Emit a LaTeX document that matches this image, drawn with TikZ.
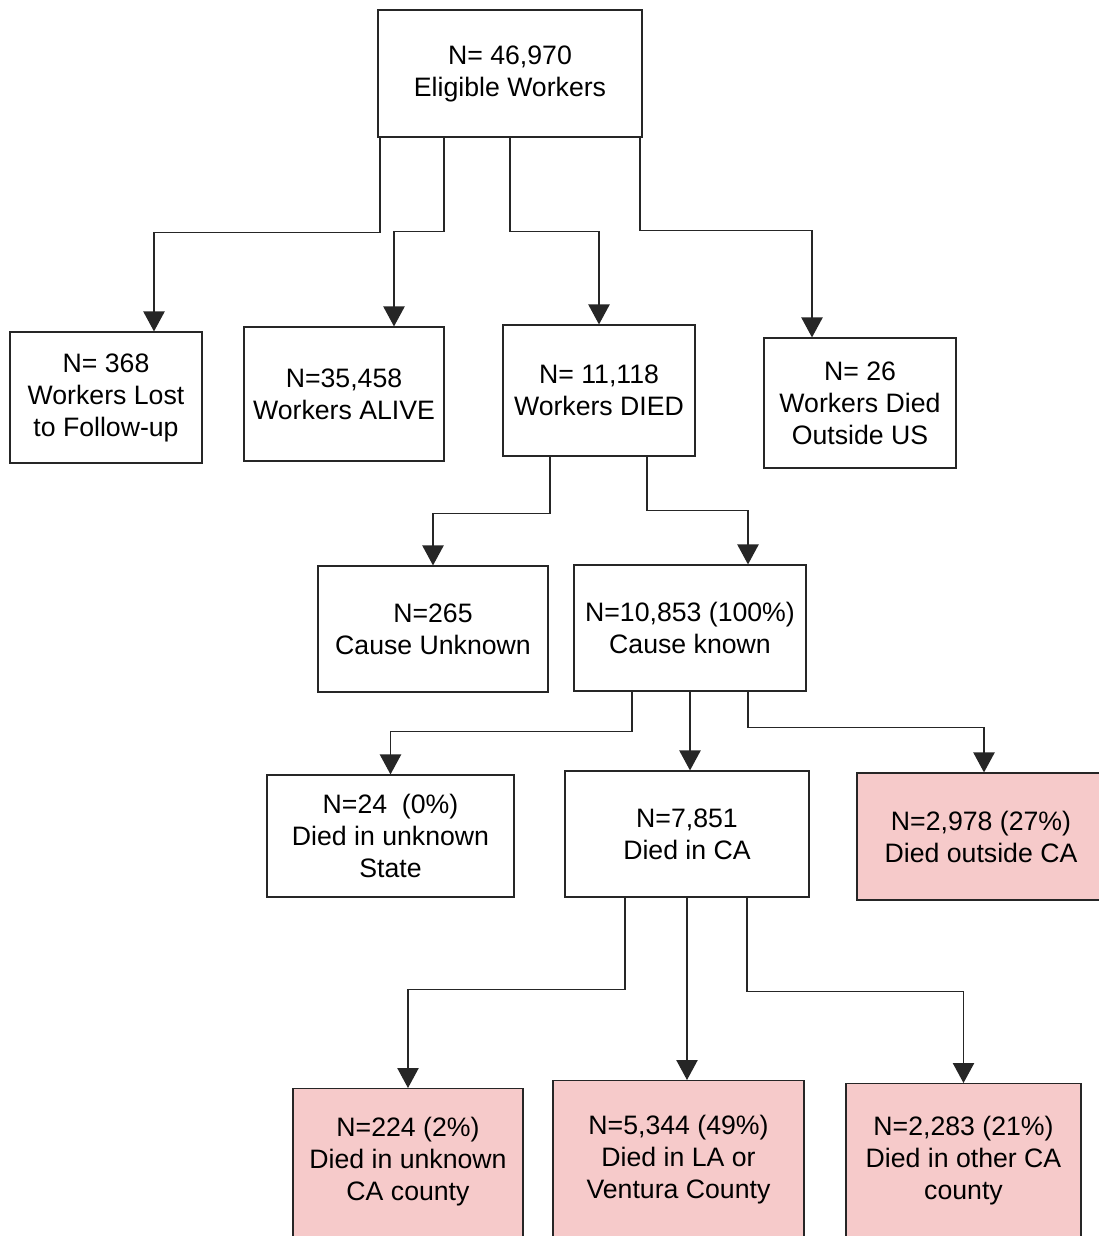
\documentclass[tikz,border=0pt]{standalone}
\usepackage{fontspec}
\setmainfont{Liberation Sans}
\usetikzlibrary{arrows.meta,calc}
\definecolor{pinkfill}{HTML}{F6CACA}
\begin{document}
\begin{tikzpicture}[x=0.75pt,y=-0.75pt,
  box/.style={draw=black!85,line width=0.9pt,fill=white,align=center,inner sep=0pt,
    font=\fontsize{20}{24}\selectfont},
  pinkbox/.style={box,fill=pinkfill},
  txt/.style={align=center,inner sep=0pt,font=\fontsize{20}{24}\selectfont},
  arr/.style={line width=0.9pt,draw=black!85,-{Triangle[length=15pt,width=16pt]}}]
\useasboundingbox (0,0) rectangle (1099,1236);
\clip (0,0) rectangle (1099,1236);
\fill[white] (0,0) rectangle (1099,1236);
% row 1
\node[box,minimum width=198pt,minimum height=95.25pt] (top) at (510,73.5) {N= 46,970\\Eligible Workers};
% row 2
\node[box,minimum width=144pt,minimum height=98.25pt] (lost) at (106,397.5) {N= 368\\Workers Lost\\to Follow-up};
\node[box,minimum width=150pt,minimum height=100.5pt] (alive) at (344,394) {N=35,458\\Workers ALIVE};
\node[box,minimum width=144pt,minimum height=98.25pt] (died) at (599,390.5) {N= 11,118\\Workers DIED};
\node[box,minimum width=144pt,minimum height=97.5pt] (outus) at (860,403) {N= 26\\Workers Died\\Outside US};
% row 3
\node[box,minimum width=172.5pt,minimum height=94.5pt] (cunk) at (433,629) {N=265\\Cause Unknown};
\node[box,minimum width=174pt,minimum height=94.5pt] (cknown) at (690,628) {N=10,853 (100\%)\\Cause known};
% row 4
\node[box,minimum width=185.25pt,minimum height=91.5pt] (ustate) at (390.5,836) {N=24\ \ (0\%)\\Died in unknown\\State};
\node[box,minimum width=183pt,minimum height=94.5pt] (inca) at (687,834) {N=7,851\\Died in CA};
\node[pinkbox,minimum width=186pt,minimum height=95.25pt] (outca) at (981,836.5) {N=2,978 (27\%)\\Died outside CA};
% row 5
\node[pinkbox,minimum width=172.5pt,minimum height=187.5pt,anchor=north] (ucounty) at (408,1088) {};
\node[pinkbox,minimum width=188.25pt,minimum height=187.5pt,anchor=north] (la) at (678.5,1080) {};
\node[pinkbox,minimum width=176.25pt,minimum height=187.5pt,anchor=north] (other) at (963.5,1083) {};
\node[txt] (ucountyt) at (408,1162) {N=224 (2\%)\\Died in unknown\\CA county};
\node[txt] (lat) at (678.5,1160) {N=5,344 (49\%)\\Died in LA or\\Ventura County};
\node[txt] (othert) at (963.5,1161) {N=2,283 (21\%)\\Died in other CA\\county};
% connectors
\draw[arr] ($(top.south)+(-130,0)$) -- ++(0,95) -| ($(lost.north)+(48,0)$);
\draw[arr] ($(top.south)+(-66,0)$) -- ++(0,94) -| ($(alive.north)+(50,0)$);
\draw[arr] (top.south) -- ++(0,94) -| (died.north);
\draw[arr] ($(top.south)+(130,0)$) -- ++(0,93) -| ($(outus.north)+(-48,0)$);
\draw[arr] ($(died.south)+(-49,0)$) -- ++(0,57) -| (cunk.north);
\draw[arr] ($(died.south)+(48,0)$) -- ++(0,54) -| ($(cknown.north)+(58,0)$);
\draw[arr] ($(cknown.south)+(-58,0)$) -- ++(0,40) -| (ustate.north);
\draw[arr] (cknown.south) -- (cknown.south |- inca.north);
\draw[arr] ($(cknown.south)+(58,0)$) -- ++(0,36) -| ($(outca.north)+(3,0)$);
\draw[arr] ($(inca.south)+(-62,0)$) -- ++(0,92) -| (ucounty.north);
\draw[arr] (inca.south) -- (inca.south |- la.north);
\draw[arr] ($(inca.south)+(60,0)$) -- ++(0,94) -| (other.north);
\end{tikzpicture}
\end{document}
